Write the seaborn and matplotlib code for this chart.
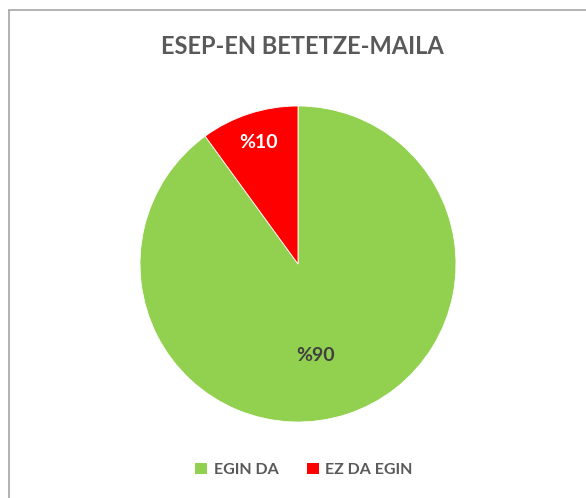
import matplotlib.pyplot as plt
import seaborn as sns
import numpy as np
from matplotlib.lines import Line2D
from matplotlib.patches import Patch

title = 'ESEP-EN BETETZE-MAILA'
categories = ['EGIN DA', 'EZ DA EGIN']
values = [90, 10]
pct_labels = ['%90', '%10']
colors = ['#92D050', '#FF0000']

sns.set_theme(style='white')
plt.rcParams['font.family'] = ['Lato', 'DejaVu Sans']

W, H = 586, 498
fig = plt.figure(figsize=(W / 100, H / 100), dpi=100)

# chart frame (left and top edges visible)
fig.add_artist(Line2D([8.5 / W, 8.5 / W], [0, 1 - 10.5 / H], color='#A6A6A6', lw=1.2))
fig.add_artist(Line2D([8.5 / W, 1], [1 - 10.5 / H, 1 - 10.5 / H], color='#A6A6A6', lw=1.2))

cx, cy, r = 298, 264, 158
ax = fig.add_axes([(cx - r) / W, (H - cy - r) / H, 2 * r / W, 2 * r / H])
wedges, _ = ax.pie(values, colors=colors, startangle=90, counterclock=False,
                   radius=1, wedgeprops=dict(edgecolor='white', linewidth=0.6))
ax.set_xlim(-1, 1)
ax.set_ylim(-1, 1)
ax.set_aspect('equal')
ax.axis('off')

# data labels
label_pos = [(0.11, -0.58), (-0.25, 0.77)]
label_col = ['#404040', 'white']
for (x, y), txt, c in zip(label_pos, pct_labels, label_col):
    ax.text(x, y, txt, ha='center', va='center', fontsize=14,
            fontweight='bold', color=c)

fig.text(302 / W, 1 - 47 / H, title, ha='center', va='center',
         fontsize=17, fontweight='bold', color='#595959')

handles = [Patch(facecolor=c, edgecolor='none') for c in colors]
fig.legend(handles, categories, loc='center', bbox_to_anchor=(304 / W, 1 - 470 / H),
           ncol=2, frameon=False, handlelength=0.75, handleheight=0.75,
           handletextpad=0.4, columnspacing=1.8,
           prop=dict(weight='bold', size=11.5), labelcolor='#595959')

fig.savefig('out.png', dpi=100)
